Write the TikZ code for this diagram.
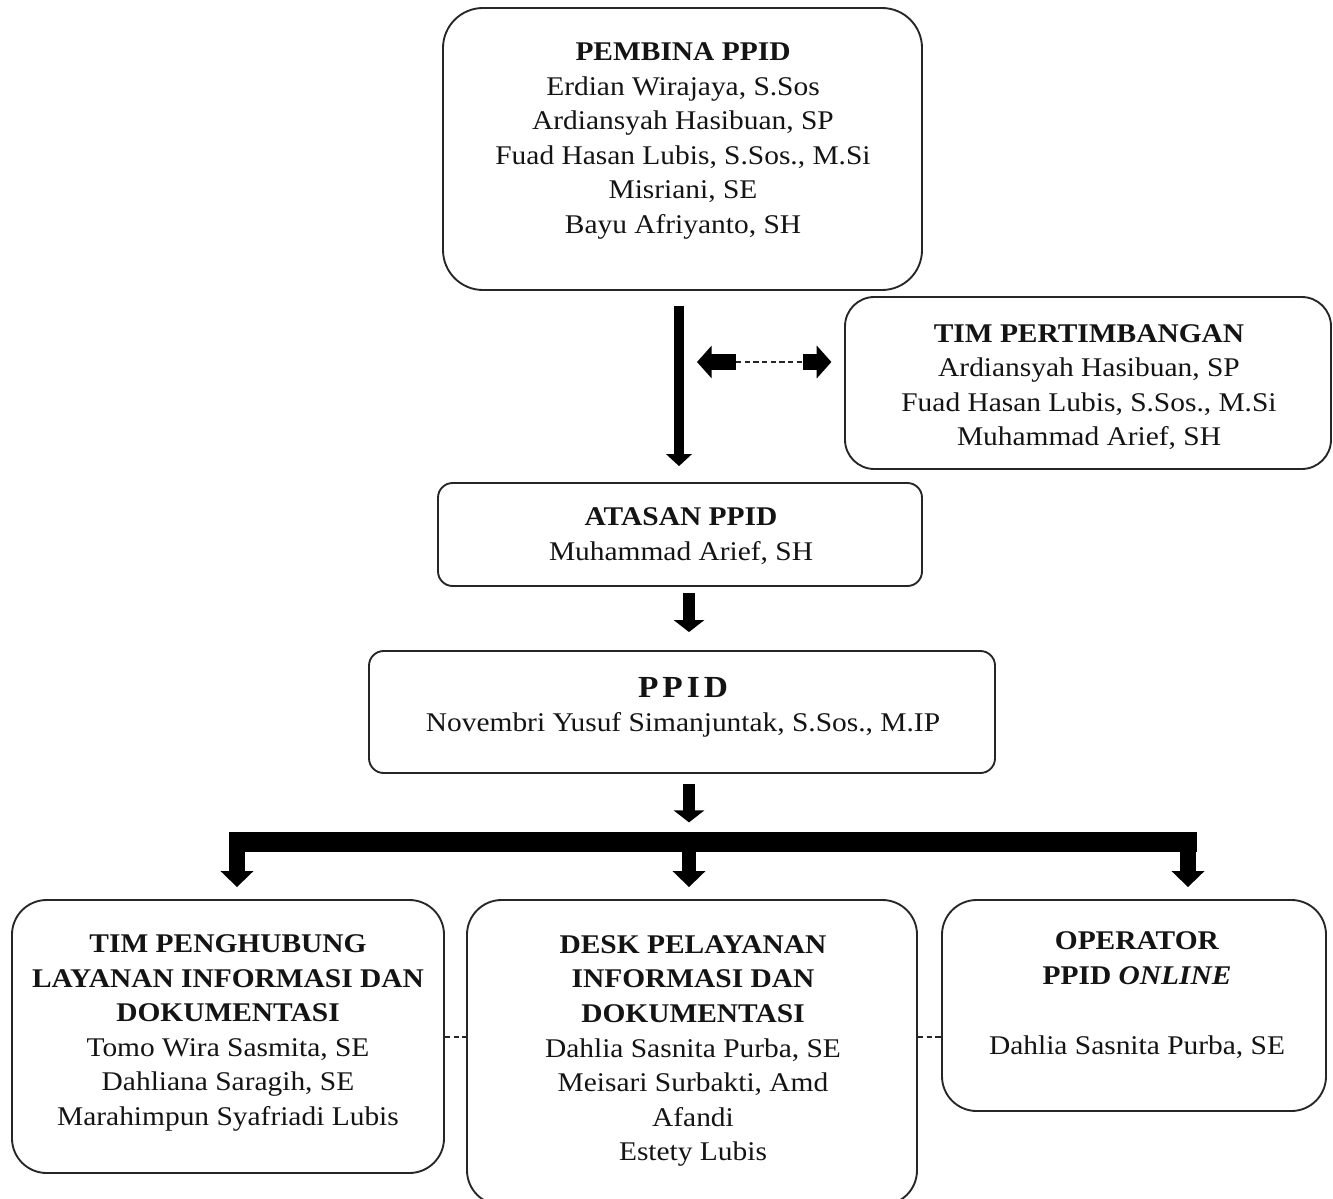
\documentclass[tikz,border=0pt]{standalone}
\usepackage{fontspec}
\setmainfont{Liberation Serif}[FakeStretch=1.09]
\usetikzlibrary{arrows.meta,fit,calc}
\begin{document}
\begin{tikzpicture}[x=0.75pt,y=-0.75pt,
  box/.style={draw=black!85, line width=1.4pt, inner sep=0pt},
  txt/.style={align=center, text=black!92, inner sep=0pt,
    font=\fontsize{20.25}{25.9}\selectfont},
  blockarrow/.style={draw=black, line width=#1},
  tipA/.style={-{Triangle[width=19pt,length=9pt]}},
  tipB/.style={-{Triangle[width=22.5pt,length=9pt]}},
  tipC/.style={-{Triangle[width=24pt,length=11pt]}},
  tipD/.style={-{Triangle[width=24pt,length=12pt]}},
  dashline/.style={draw=black!85, line width=1.5pt, dash pattern=on 4pt off 2.5pt}
]
\useasboundingbox[fill=white] (0,0) rectangle (1333,1198);

% boxes
\node[box, rounded corners=30pt, fit={(443,8) (922,290)}] (pembina) {};
\node[box, rounded corners=22pt, fit={(845,297) (1331,469)}] (timp) {};
\node[box, rounded corners=11pt, fit={(438,483) (922,586)}] (atasan) {};
\node[box, rounded corners=11pt, fit={(369,651) (995,773)}] (ppid) {};
\node[box, rounded corners=26pt, fit={(12,900) (444,1173)}] (b1) {};
\node[box, rounded corners=26pt, fit={(467,900) (917,1205)}] (b2) {};
\node[box, rounded corners=26pt, fit={(942,900) (1326,1111)}] (b3) {};

% texts
\node[txt] (tpembina) at (683,141) {\textbf{PEMBINA PPID}\\ Erdian Wirajaya, S.Sos\\ Ardiansyah Hasibuan, SP\\ Fuad Hasan Lubis, S.Sos., M.Si\\ Misriani, SE\\ Bayu Afriyanto, SH};
\node[txt] (ttimp) at (1089,387) {\textbf{TIM PERTIMBANGAN}\\ Ardiansyah Hasibuan, SP\\ Fuad Hasan Lubis, S.Sos., M.Si\\ Muhammad Arief, SH};
\node[txt, font=\fontsize{20.25}{26.25}\selectfont] (tatasan) at (681,536) {\textbf{ATASAN PPID}\\ Muhammad Arief, SH};
\node[txt, font=\fontsize{20.25}{25.5}\selectfont] (tppid) at (683,707) {{\fontsize{23}{25.5}\selectfont\textbf{P\hspace{3pt}P\hspace{3pt}I\hspace{3pt}D}}\\ Novembri Yusuf Simanjuntak, S.Sos., M.IP};
\node[txt] (tb1) at (228,1033) {\textbf{TIM PENGHUBUNG}\\ \textbf{LAYANAN INFORMASI DAN}\\ \textbf{DOKUMENTASI}\\ Tomo Wira Sasmita, SE\\ Dahliana Saragih, SE\\ Marahimpun Syafriadi Lubis};
\node[txt] (tb2) at (693,1051) {\textbf{DESK PELAYANAN}\\ \textbf{INFORMASI DAN}\\ \textbf{DOKUMENTASI}\\ Dahlia Sasnita Purba, SE\\ Meisari Surbakti, Amd\\ Afandi\\ Estety Lubis};
\node[txt] (tb3) at (1137,995) {\textbf{OPERATOR}\\ \textbf{PPID \textit{ONLINE}}\\[26.5pt] Dahlia Sasnita Purba, SE};

% coordinates for connector columns
\coordinate (lx) at (679,0);
\coordinate (mx) at (689,0);
\coordinate (dA) at (697,362);
\coordinate (dB) at (736,362);
\coordinate (dC) at (803,362);
\coordinate (c1) at (237,0);
\coordinate (c3) at (1188,0);

% long arrow Pembina -> Atasan
\draw[blockarrow=7.5pt, tipA, shorten <=11pt, shorten >=12pt] (pembina.south -| lx) -- (atasan.north -| lx);

% double block arrow to Tim Pertimbangan
\draw[blockarrow=12pt, tipC] (dB) -- (dA);
\draw[dashline] (dB) -- (dC);
\draw[blockarrow=12pt, tipC, shorten >=9.5pt] (dC) -- (timp.west |- dC);

% Atasan -> PPID
\draw[blockarrow=9pt, tipB, shorten <=4.5pt, shorten >=13.5pt] (atasan.south -| mx) -- (ppid.north -| mx);

% bus
\node[fill=black, inner sep=0pt, fit={(229,832) (1197,852)}] (bus) {};
\draw[blockarrow=9pt, tipB, shorten <=7.5pt, shorten >=7pt] (ppid.south -| mx) -- (bus.north -| mx);

% drops
\draw[blockarrow=12pt, tipD, shorten <=-1pt, shorten >=9pt] (bus.south -| c1) -- (b1.north -| c1);
\draw[blockarrow=10pt, tipD, shorten <=-1pt, shorten >=9pt] (bus.south -| mx) -- (b2.north -| mx);
\draw[blockarrow=12pt, tipD, shorten <=-1pt, shorten >=9pt] (bus.south -| c3) -- (b3.north -| c3);

% dashed links between bottom boxes
\draw[dashline] (b1.east) -- (b1.east -| b2.west);
\draw[dashline] (b2.east |- b1.east) -- (b3.west |- b1.east);
\end{tikzpicture}
\end{document}
